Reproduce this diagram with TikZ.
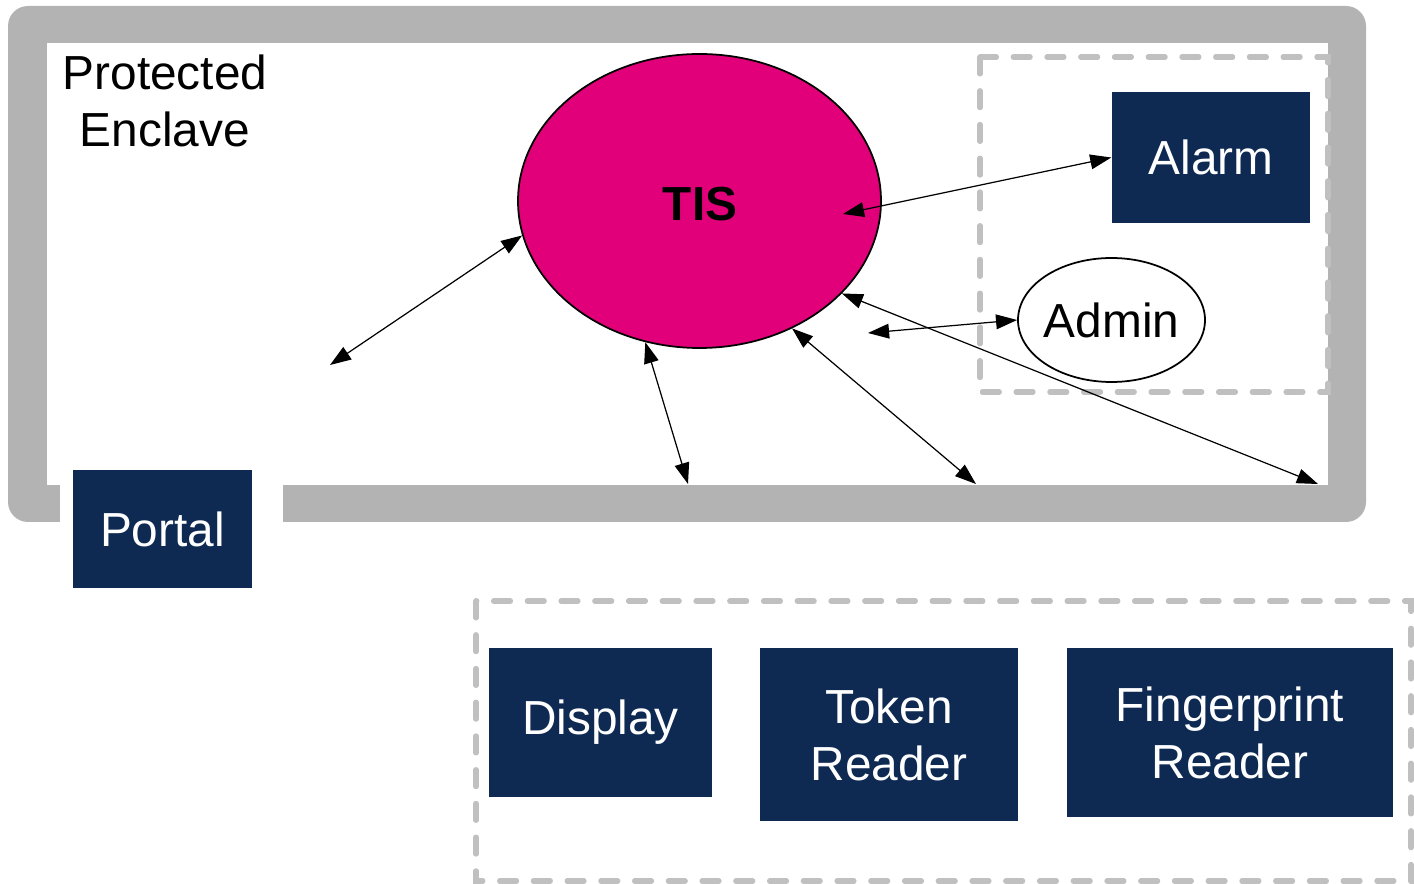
\documentclass[tikz,border=0pt]{standalone}
\usepackage{fontspec}
\setmainfont{Liberation Sans}
\usetikzlibrary{arrows.meta,shapes.geometric}

\definecolor{enclavegray}{RGB}{179,179,179}
\definecolor{dashgray}{RGB}{192,192,192}
\definecolor{boxblue}{RGB}{14,42,82}
\definecolor{tismagenta}{RGB}{226,0,122}

\begin{document}
\begin{tikzpicture}[
    every node/.style={font=\fontsize{13.6}{16.2}\selectfont},
    device/.style={rectangle,fill=boxblue,text=white,align=center,inner sep=0pt},
    zone/.style={draw=dashgray,line width=1.5pt,dash pattern=on 4.8pt off 4.8pt,line cap=round},
    link/.style={{Triangle[length=6pt,width=4.2pt]}-{Triangle[length=6pt,width=4.2pt]},line width=0.35pt}
  ]
    \useasboundingbox (0,0) rectangle (14.14,-8.84);

    % enclave wall, open at the portal
    \fill[enclavegray,rounded corners=0.2cm] (0.08,-0.06) rectangle (13.66,-5.22);
    \fill[white] (0.47,-0.43) rectangle (13.28,-4.85);
    \fill[white] (0.60,-4.84) rectangle (2.83,-5.24);
    \node[align=center] (Enclave) at (1.65,-1.01){Protected\\Enclave};

    % dashed groups
    \draw[zone] (9.80,-0.57) rectangle (13.28,-3.92);
    \draw[zone] (4.76,-6.01) rectangle (14.11,-8.81);

    \node[ellipse,draw,line width=0.5pt,fill=tismagenta,minimum width=3.63cm,minimum height=2.94cm,inner sep=0pt] (TIS) at (6.995,-2.01){};
    \node at (7.00,-2.04){\bfseries TIS};
    \node[ellipse,draw,line width=0.5pt,fill=white,minimum width=1.87cm,minimum height=1.24cm,inner sep=0pt] (Admin) at (11.115,-3.20){};
    \node at (11.115,-3.20){Admin};

    \node[device,minimum width=1.98cm,minimum height=1.31cm] (Alarm) at (12.11,-1.575){Alarm};
    \node[device,minimum width=1.79cm,minimum height=1.18cm] (Portal) at (1.625,-5.29){Portal};
    \node[device,minimum width=2.23cm,minimum height=1.49cm] (Display) at (6.005,-7.225){Display};
    \node[device,minimum width=2.58cm,minimum height=1.73cm] (Token) at (8.89,-7.345){Token\\Reader};
    \node[device,minimum width=3.26cm,minimum height=1.69cm] (Finger) at (12.30,-7.325){Fingerprint\\Reader};

    \coordinate (outA) at (3.30,-3.65);
    \coordinate (inTIS) at (8.43,-2.14);
    \coordinate (nearTIS) at (8.68,-3.33);
    \coordinate (wallA) at (6.88,-4.84);
    \coordinate (wallB) at (9.76,-4.84);
    \coordinate (corner) at (13.18,-4.84);

    \draw (outA) edge[link] (TIS.191);
    \draw (inTIS) edge[link] (Alarm.west);
    \draw (nearTIS) edge[link] (Admin.west);
    \draw (TIS.-33.5) edge[link] (corner);
    \draw (TIS.-111.8) edge[link] (wallA);
    \draw (TIS.-54.9) edge[link] (wallB);
  \end{tikzpicture}
\end{document}
